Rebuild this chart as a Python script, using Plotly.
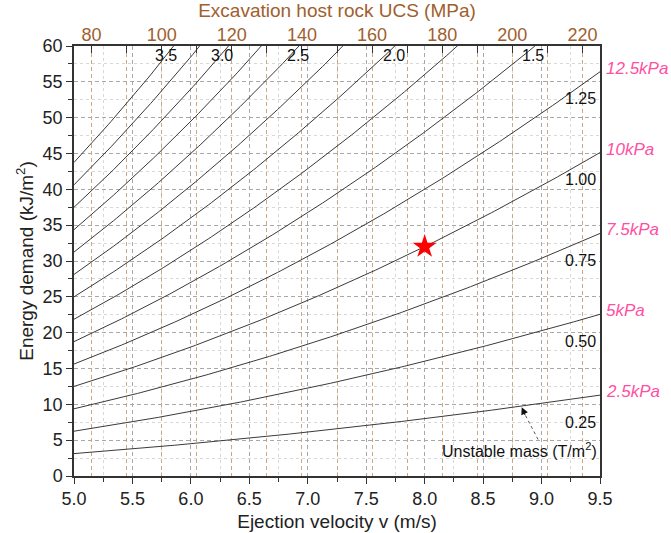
import numpy as np
import plotly.graph_objects as go

# Unstable mass per unit area (T/m^2) for each iso-mass curve
masses = [0.25, 0.5, 0.75, 1.0, 1.25, 1.5, 1.75, 2.0, 2.25, 2.5, 2.75, 3.0, 3.25, 3.5]

# Ejection velocity span (m/s)
v_min, v_max = 5.0, 9.5

# Curve labels along the top edge
top_label_text = ["3.5", "3.0", "2.5", "2.0", "1.5"]
top_label_v = [5.79, 6.27, 6.92, 7.74, 8.93]

# Curve labels along the right edge
right_label_mass = [1.25, 1.0, 0.75, 0.5, 0.25]
right_label_text = ["1.25", "1.00", "0.75", "0.50", "0.25"]

# Equivalent support pressure labels (right margin)
pressure_mass = [1.25, 1.0, 0.75, 0.5, 0.25]
pressure_text = ["12.5kPa", "10kPa", "7.5kPa", "5kPa", "2.5kPa"]

# Design point
star_v = [8.0]
star_e = [32.0]

# Host rock UCS scale on the top axis (MPa), linear in velocity
ucs_range = [75, 225]
ucs_ticks = [80, 100, 120, 140, 160, 180, 200, 220]

BROWN = "#A0602D"
PINK = "#FF4FA3"
FONT = "Liberation Sans, Arial, sans-serif"


def energy(m, v):
    # kinetic energy per unit area: E = 1/2 m v^2  (kJ/m^2)
    return 0.5 * m * np.asarray(v) ** 2


v = np.linspace(v_min, v_max, 200)

fig = go.Figure()

for m in masses:
    fig.add_trace(go.Scatter(
        x=v, y=energy(m, v), mode="lines",
        line=dict(color="#3a3a3a", width=1),
        showlegend=False, hoverinfo="skip",
    ))

fig.add_trace(go.Scatter(
    x=star_v, y=star_e, mode="markers",
    marker=dict(symbol="star", size=18, color="#FF0000", line=dict(width=0)),
    showlegend=False,
))

# anchor trace for the UCS axis
fig.add_trace(go.Scatter(
    x=ucs_ticks, y=[0] * len(ucs_ticks), xaxis="x2", mode="markers",
    marker=dict(opacity=0), showlegend=False, hoverinfo="skip",
))

annotations = []
for txt, xv in zip(top_label_text, top_label_v):
    annotations.append(dict(
        x=xv, y=58.7, xref="x", yref="y", text=txt, showarrow=False,
        font=dict(size=16, color="#111", family=FONT),
    ))

for m, txt in zip(right_label_mass, right_label_text):
    annotations.append(dict(
        x=9.48, y=float(energy(m, 9.5)) - 3.8, xref="x", yref="y", text=txt,
        showarrow=False, xanchor="right",
        font=dict(size=16, color="#111", family=FONT),
    ))

for m, txt in zip(pressure_mass, pressure_text):
    annotations.append(dict(
        x=9.5, y=float(energy(m, 9.5)) + 0.5, xref="x", yref="y",
        text="<i>" + txt + "</i>", showarrow=False, xanchor="left", xshift=4,
        font=dict(size=17, color=PINK, family=FONT),
    ))

# "Unstable mass" call-out pointing at the 0.25 curve
arrow_v = 8.83
annotations.append(dict(
    x=9.49, y=3.6, xref="x", yref="y",
    text="Unstable mass (T/m<sup>2</sup>)", showarrow=False, xanchor="right",
    font=dict(size=16, color="#111", family=FONT),
))
annotations.append(dict(
    x=arrow_v, y=float(energy(0.25, arrow_v)) - 0.15, xref="x", yref="y",
    text="", showarrow=True, arrowhead=2, arrowsize=1.2, arrowwidth=1.2,
    arrowcolor="#111", ax=4, ay=9,
))

shapes = [dict(
    type="line", xref="x", yref="y",
    x0=8.97, y0=5.1, x1=arrow_v + 0.02, y1=float(energy(0.25, arrow_v)) - 0.9,
    line=dict(color="#555", width=1, dash="dot"),
)]

fig.update_layout(
    width=671, height=533,
    margin=dict(l=74, r=71, t=46, b=57),
    paper_bgcolor="white", plot_bgcolor="white",
    font=dict(family=FONT, size=18, color="#222"),
    showlegend=False,
    annotations=annotations,
    shapes=shapes,
    xaxis=dict(
        range=[v_min, v_max], dtick=0.5, tick0=5.0, tickformat=".1f",
        ticks="outside", ticklen=6, tickwidth=1.2, tickcolor="#333",
        showline=True, linecolor="#333", linewidth=1.5, mirror=True,
        showgrid=True, gridcolor="#a8a8a8", griddash="4px,3px", gridwidth=1,
        zeroline=False, automargin=False,
        minor=dict(dtick=0.25, ticks="outside", ticklen=4, tickcolor="#333",
                   showgrid=True, gridcolor="#d8d8d8", griddash="dot"),
        title=dict(text="Ejection velocity v (m/s)", font=dict(size=19), standoff=6),
        tickfont=dict(size=18),
    ),
    xaxis2=dict(
        overlaying="x", side="top", range=ucs_range, tick0=80, dtick=20,
        ticks="inside", ticklen=7, tickwidth=1.2, tickcolor="#333",
        showgrid=True, gridcolor="#CCA783", griddash="4px,3px", gridwidth=1,
        zeroline=False, showline=False, automargin=False,
        minor=dict(dtick=10, ticks="inside", ticklen=7, tickcolor="#333",
                   showgrid=True, gridcolor="#CCA783", griddash="4px,3px"),
        tickfont=dict(size=18, color=BROWN),
        title=dict(text="Excavation host rock UCS (MPa)", font=dict(size=19, color=BROWN), standoff=5),
    ),
    yaxis=dict(
        range=[0, 60], dtick=5, ticks="outside", ticklen=6, tickwidth=1.2,
        tickcolor="#333", showline=True, linecolor="#333", linewidth=1.5,
        mirror=True, showgrid=True, gridcolor="#a8a8a8", griddash="4px,3px",
        zeroline=False, automargin=False,
        minor=dict(dtick=2.5, ticks="outside", ticklen=4, tickcolor="#333",
                   showgrid=True, gridcolor="#d8d8d8", griddash="dot"),
        title=dict(text="Energy demand (kJ/m<sup>2</sup>)", font=dict(size=19), standoff=4),
        tickfont=dict(size=18),
    ),
)

fig.write_html("out.html")
